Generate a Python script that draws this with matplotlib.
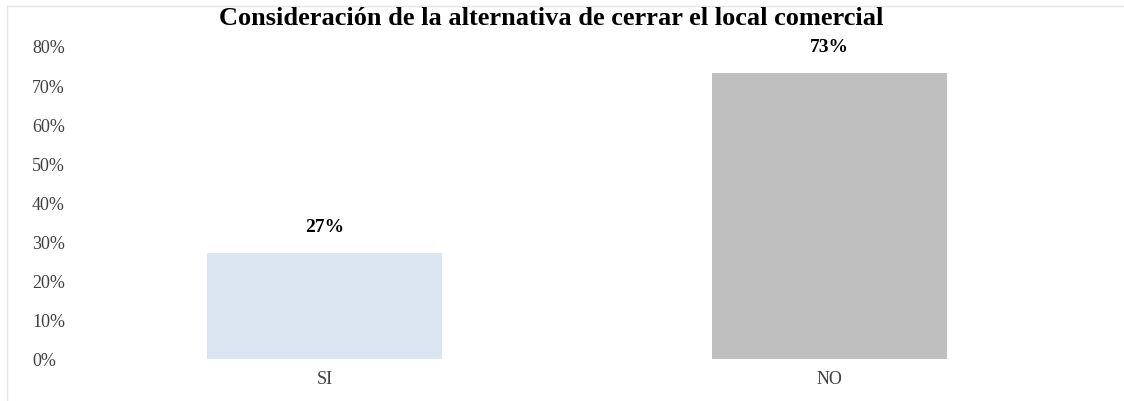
import matplotlib.pyplot as plt
from matplotlib.lines import Line2D

categories = ["SI", "NO"]
values = [0.27, 0.73]
labels = ["27%", "73%"]
yticks = [0, 0.1, 0.2, 0.3, 0.4, 0.5, 0.6, 0.7, 0.8]
ytick_labels = ["0%", "10%", "20%", "30%", "40%", "50%", "60%", "70%", "80%"]
colors = ["#dce6f2", "#bfbfbf"]

plt.rcParams["font.family"] = ["Liberation Serif", "DejaVu Serif"]

fig = plt.figure(figsize=(11.24, 4.02), dpi=100)
ax = fig.add_axes([0.064, 0.1045, 0.8986, 0.7786])

x = list(range(len(categories)))
ax.bar(x, values, width=0.465, color=colors)
for xi, v, lab in zip(x, values, labels):
    ax.text(xi, v + 0.068, lab, ha="center", va="center",
            fontsize=14, fontweight="bold", color="#000000")

ax.set_xlim(-0.5, 1.5)
ax.set_ylim(0, 0.8)
ax.set_xticks(x)
ax.set_xticklabels(categories, fontsize=13, color="#404040")
ax.set_yticks(yticks)
ax.set_yticklabels(ytick_labels, fontsize=13, color="#404040")
ax.tick_params(axis="y", length=0, pad=28.8)
ax.tick_params(axis="x", length=0, pad=8)
for lab in ax.get_yticklabels():
    lab.set_ha("left")
for s in ax.spines.values():
    s.set_visible(False)

fig.text(0.49, 0.953, "Consideración de la alternativa de cerrar el local comercial",
         ha="center", va="center", fontsize=19, fontweight="bold", color="#000000")

# faint chart-area border at left and top
fig.add_artist(Line2D([7 / 1124, 7 / 1124], [0, 1 - 7 / 402], color="#e6e6e6", lw=1))
fig.add_artist(Line2D([7 / 1124, 1], [1 - 7 / 402, 1 - 7 / 402], color="#e6e6e6", lw=1))

fig.savefig("out.png", dpi=100)
